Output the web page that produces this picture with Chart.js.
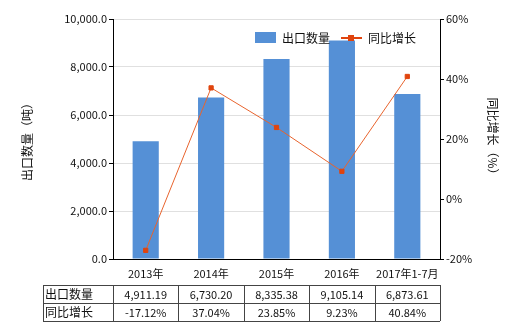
<!DOCTYPE html>
<html>
<head>
<meta charset="utf-8">
<script src="https://cdn.jsdelivr.net/npm/chart.js@4"></script>
<style>
  html, body { margin: 0; padding: 0; background: #fff; }
  #wrap { width: 520px; height: 330px; }
</style>
</head>
<body>
<div id="wrap"><canvas id="c" width="520" height="330"></canvas></div>
<script>
// Chart data
const categories = ['2013年', '2014年', '2015年', '2016年', '2017年1-7月'];
const exportQty = [4911.19, 6730.20, 8335.38, 9105.14, 6873.61];
const yoyGrowth = [-17.12, 37.04, 23.85, 9.23, 40.84];
const qtyLabels = ['4,911.19', '6,730.20', '8,335.38', '9,105.14', '6,873.61'];
const growthLabels = ['-17.12%', '37.04%', '23.85%', '9.23%', '40.84%'];

const barColor = '#5590d6';
const lineColor = '#e8642e';
const markColor = '#e0440e';
const fontFamily = '"Noto Sans CJK SC", "DejaVu Sans", sans-serif';

// Draw legend + data table under the x axis
const tablePlugin = {
    id: 'tablePlugin',
    afterDraw(chart) {
        const ctx = chart.ctx;
        const x = chart.scales.x;
        const area = chart.chartArea;
        const n = categories.length;
        const step = (area.right - area.left) / n;
        const top = 285, rowH = 18, left = 43;
        const barSet = chart.data.datasets[1];
        const lineSet = chart.data.datasets[0];

        ctx.save();
        ctx.strokeStyle = '#444';
        ctx.lineWidth = 1;
        ctx.beginPath();
        for (let r = 0; r <= 2; r++) {
            ctx.moveTo(left, top + r * rowH + 0.5);
            ctx.lineTo(area.right, top + r * rowH + 0.5);
        }
        ctx.moveTo(left + 0.5, top);
        ctx.lineTo(left + 0.5, top + 2 * rowH);
        for (let i = 0; i <= n; i++) {
            const gx = Math.round(area.left + i * step) + 0.5;
            ctx.moveTo(gx, top);
            ctx.lineTo(gx, top + 2 * rowH);
        }
        ctx.stroke();

        ctx.fillStyle = '#111';
        ctx.font = '12px ' + fontFamily;
        ctx.textBaseline = 'middle';
        ctx.textAlign = 'left';
        ctx.fillText(barSet.label, left + 2, top + rowH / 2);
        ctx.fillText(lineSet.label, left + 2, top + rowH * 1.5);
        ctx.font = '11px ' + fontFamily;
        ctx.textAlign = 'center';
        for (let i = 0; i < n; i++) {
            const cx = x.getPixelForValue(i);
            ctx.fillText(qtyLabels[i], cx, top + rowH / 2 + 1);
            ctx.fillText(growthLabels[i], cx, top + rowH * 1.5 + 1);
        }

        // legend
        ctx.font = '12px ' + fontFamily;
        ctx.textAlign = 'left';
        ctx.fillStyle = barColor;
        ctx.fillRect(255, 32, 21, 11);
        ctx.fillStyle = '#111';
        ctx.fillText(barSet.label, 282, 38);
        ctx.strokeStyle = markColor;
        ctx.lineWidth = 2;
        ctx.beginPath();
        ctx.moveTo(341, 38);
        ctx.lineTo(362, 38);
        ctx.stroke();
        ctx.fillStyle = markColor;
        ctx.fillRect(348, 35, 6, 6);
        ctx.fillStyle = '#111';
        ctx.fillText(lineSet.label, 368, 38);
        ctx.restore();
    }
};

new Chart(document.getElementById('c'), {
    data: {
        labels: categories,
        datasets: [
            {
                type: 'line',
                label: '同比增长',
                data: yoyGrowth,
                yAxisID: 'y2',
                borderColor: lineColor,
                borderWidth: 1,
                pointStyle: 'rect',
                pointRadius: 3,
                pointBackgroundColor: markColor,
                pointBorderColor: markColor,
                tension: 0,
                order: 0
            },
            {
                type: 'bar',
                label: '出口数量',
                data: exportQty,
                yAxisID: 'y',
                backgroundColor: barColor,
                categoryPercentage: 0.4,
                barPercentage: 1,
                order: 1
            }
        ]
    },
    plugins: [tablePlugin],
    options: {
        responsive: false,
        animation: false,
        layout: { padding: { top: 19, left: 0, right: 0, bottom: 0 } },
        plugins: {
            legend: { display: false },
            tooltip: { enabled: false }
        },
        scales: {
            x: {
                grid: { display: false },
                border: { color: '#000' },
                ticks: { color: '#111', font: { family: fontFamily, size: 11 }, padding: 0, maxRotation: 0, autoSkip: false },
                afterFit: s => { s.height = 71; }
            },
            y: {
                position: 'left',
                min: 0,
                max: 10000,
                ticks: {
                    stepSize: 2000,
                    color: '#111',
                    font: { family: fontFamily, size: 11 },
                    padding: 2,
                    callback: v => v.toLocaleString('en-US', { minimumFractionDigits: 1, maximumFractionDigits: 1 })
                },
                grid: { color: '#e0e0e0', tickColor: '#000', tickLength: 4 },
                border: { color: '#000' },
                title: { display: true, text: '出口数量（吨）', color: '#111', font: { family: fontFamily, size: 12 }, padding: { top: 20 } },
                afterFit: s => { s.width = 113; }
            },
            y2: {
                position: 'right',
                min: -20,
                max: 60,
                ticks: {
                    stepSize: 20,
                    color: '#111',
                    font: { family: fontFamily, size: 11 },
                    padding: 2,
                    callback: v => v + '%'
                },
                grid: { drawOnChartArea: false, tickColor: '#000', tickLength: 4 },
                border: { color: '#000' },
                title: { display: true, text: '同比增长（%）', color: '#111', font: { family: fontFamily, size: 12 }, padding: { top: 20 } },
                afterFit: s => { s.width = 80; }
            }
        }
    }
});
</script>
</body>
</html>
